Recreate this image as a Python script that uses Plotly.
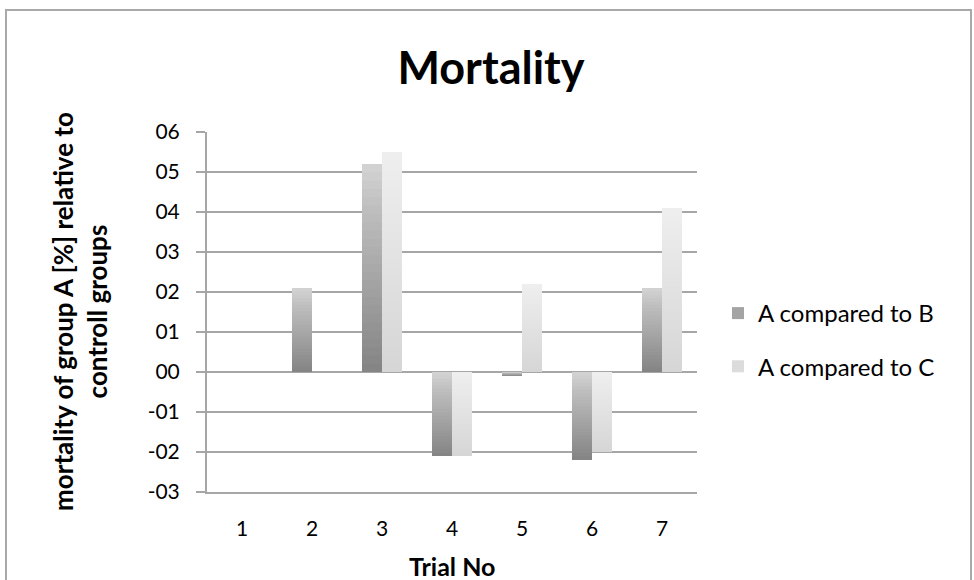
import plotly.graph_objects as go

# Trial data: change in mortality of group A relative to each control group
trials = [1, 2, 3, 4, 5, 6, 7]
a_vs_b = [0.0, 0.21, 0.52, -0.21, -0.01, -0.22, 0.21]
a_vs_c = [0.0, 0.0, 0.55, -0.21, 0.22, -0.20, 0.41]
series_names = ["A compared to B", "A compared to C"]

y_tick_vals = [0.6, 0.5, 0.4, 0.3, 0.2, 0.1, 0.0, -0.1, -0.2, -0.3]
y_tick_text = ["06", "05", "04", "03", "02", "01", "00", "-01", "-02", "-03"]

FONT = "Lato"
GRID = "#a6a6a6"
BAR_W = 0.2857
N_SHADE = 24


def shaded_bars(values, offset, top_color, shade_alpha):
    """Bar series with a vertical light-to-dark shading built from stacked translucent layers."""
    bases = [min(v, 0) for v in values]
    lengths = [abs(v) for v in values]
    traces = [go.Bar(x=trials, y=lengths, base=bases, offset=offset, width=BAR_W,
                     marker=dict(color=top_color, line=dict(width=0)),
                     showlegend=False, hoverinfo="skip")]
    for k in range(1, N_SHADE + 1):
        frac = 1 - k / (N_SHADE + 1)
        traces.append(go.Bar(x=trials, y=[l * frac for l in lengths], base=bases,
                             offset=offset, width=BAR_W,
                             marker=dict(color=f"rgba(0,0,0,{shade_alpha})", line=dict(width=0)),
                             showlegend=False, hoverinfo="skip"))
    return traces


fig = go.Figure()
for tr in shaded_bars(a_vs_b, -BAR_W, "#d2d2d2", 0.0165):
    fig.add_trace(tr)
for tr in shaded_bars(a_vs_c, 0.0, "#eeeeee", 0.0042):
    fig.add_trace(tr)

# legend entries
fig.add_trace(go.Bar(x=[None], y=[None], name=series_names[0], legendgroup="b",
                     marker=dict(color="#a4a4a4", line=dict(width=0))))
fig.add_trace(go.Bar(x=[None], y=[None], name=series_names[1], legendgroup="c",
                     marker=dict(color="#dcdcdc", line=dict(width=0))))

fig.update_layout(
    width=974, height=580,
    margin=dict(l=207, r=277, t=132, b=88),
    paper_bgcolor="white", plot_bgcolor="white",
    barmode="overlay",
    font=dict(family=FONT, color="#000000"),
    title=dict(text="<b>Mortality</b>", x=491 / 974, xanchor="center",
               y=1 - 68 / 580, yanchor="middle", font=dict(size=45, family=FONT)),
    legend=dict(x=(718 - 207) / 490, xanchor="left", y=(492 - 291) / 360, yanchor="top",
                font=dict(size=24, family=FONT), traceorder="grouped", tracegroupgap=19,
                bgcolor="rgba(0,0,0,0)"),
    showlegend=True,
)

fig.update_xaxes(
    range=[0.5, 7.5], tickvals=trials, ticktext=[str(t) for t in trials],
    showgrid=False, zeroline=False, showline=True, linecolor=GRID, linewidth=2,
    ticks="", ticklabelstandoff=17, tickfont=dict(size=21, family=FONT, color="#000"),
)
fig.update_yaxes(
    range=[-0.3, 0.6], tickvals=y_tick_vals, ticktext=y_tick_text,
    showgrid=True, gridcolor=GRID, gridwidth=2, zeroline=False,
    showline=True, linecolor=GRID, linewidth=2,
    ticks="outside", ticklen=9, tickwidth=2, tickcolor=GRID, ticklabelstandoff=12,
    tickfont=dict(size=21, family=FONT, color="#000"),
)

# axis titles
fig.add_annotation(text="<b>mortality of group A [%] relative to<br>controll groups</b>",
                   xref="paper", yref="paper", x=(80 - 207) / 490, y=0.5,
                   xanchor="center", yanchor="middle", textangle=-90, showarrow=False,
                   font=dict(size=26, family=FONT))
fig.add_annotation(text="<b>Trial No</b>", xref="paper", yref="paper",
                   x=0.5, y=(492 - 566) / 360, xanchor="center", yanchor="middle",
                   showarrow=False, font=dict(size=25, family=FONT))

# chart frame
fig.add_shape(type="rect", xref="paper", yref="paper",
              x0=(6 - 207) / 490, x1=(971 - 207) / 490,
              y0=(492 - 600) / 360, y1=(492 - 10) / 360,
              line=dict(color="#a9a9a9", width=2), fillcolor="rgba(0,0,0,0)", layer="below")

fig.write_html("out.html")
